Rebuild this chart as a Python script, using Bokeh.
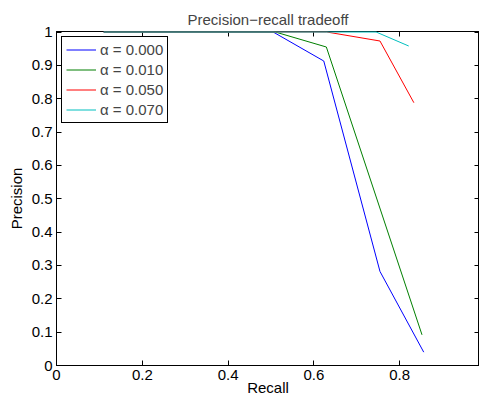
from bokeh.plotting import figure
from bokeh.models import LinearAxis, FixedTicker, Legend, LegendItem, Range1d
from bokeh.embed import file_html
from bokeh.resources import INLINE

# ---- data ----
recall_a000 = [0.11, 0.505, 0.623, 0.754, 0.856]
precision_a000 = [1.0, 1.0, 0.913, 0.282, 0.040]

recall_a010 = [0.11, 0.51, 0.629, 0.852]
precision_a010 = [1.0, 1.0, 0.955, 0.092]

recall_a050 = [0.11, 0.63, 0.754, 0.833]
precision_a050 = [1.0, 1.0, 0.973, 0.788]

recall_a070 = [0.11, 0.745, 0.821]
precision_a070 = [1.0, 1.0, 0.958]

series_labels = ["\u03b1 = 0.000", "\u03b1 = 0.010", "\u03b1 = 0.050", "\u03b1 = 0.070"]
series_colors = ["#0000ff", "#007f00", "#ff0000", "#00bfbf"]

x_ticks = [0, 0.2, 0.4, 0.6, 0.8]
x_tick_labels = ["0", "0.2", "0.4", "0.6", "0.8"]
y_ticks = [0, 0.1, 0.2, 0.3, 0.4, 0.5, 0.6, 0.7, 0.8, 0.9, 1]
y_tick_labels = ["0", "0.1", "0.2", "0.3", "0.4", "0.5", "0.6", "0.7", "0.8", "0.9", "1"]

FONT = "Liberation Sans"
FS = "15px"

p = figure(width=479, height=398,
           x_range=Range1d(0, 0.986), y_range=Range1d(0, 1.0015),
           output_backend="svg", toolbar_location=None,
           min_border_left=56, min_border_right=0,
           min_border_top=31, min_border_bottom=33,
           title="Precision\u2212recall tradeoff")
p.title.align = "center"
p.title.text_font = FONT
p.title.text_font_size = FS
p.title.text_font_style = "normal"
p.title.standoff = 7
p.grid.visible = False
p.outline_line_color = "black"
p.outline_line_alpha = 1
p.outline_line_width = 1

def style_axis(ax):
    ax.major_tick_in = 5
    ax.major_tick_out = 0
    ax.minor_tick_in = 0
    ax.minor_tick_out = 0
    ax.axis_line_color = "black"
    ax.major_tick_line_color = "black"
    ax.major_label_text_font = FONT
    ax.major_label_text_font_size = FS
    ax.major_label_text_color = "black"
    ax.axis_label_text_font = FONT
    ax.axis_label_text_font_size = FS
    ax.axis_label_text_font_style = "normal"
    ax.axis_label_text_color = "black"

xa = p.xaxis[0]
style_axis(xa)
xa.ticker = FixedTicker(ticks=x_ticks)
xa.major_label_overrides = dict(zip(x_ticks, x_tick_labels))
xa.axis_label = "Recall"
xa.major_label_standoff = 4
xa.axis_label_standoff = -4

ya = p.yaxis[0]
style_axis(ya)
ya.ticker = FixedTicker(ticks=y_ticks)
ya.major_label_overrides = dict(zip(y_ticks, y_tick_labels))
ya.axis_label = "Precision"
ya.major_label_standoff = 4
ya.axis_label_standoff = 4

for side, ticks in (("right", y_ticks), ("above", x_ticks)):
    ax = LinearAxis(ticker=FixedTicker(ticks=ticks))
    style_axis(ax)
    ax.major_label_text_font_size = "0px"
    ax.major_label_overrides = {t: "" for t in ticks}
    ax.major_label_standoff = 0
    p.add_layout(ax, side)

data = [(recall_a000, precision_a000), (recall_a010, precision_a010),
        (recall_a050, precision_a050), (recall_a070, precision_a070)]
items = []
for (xs, ys), lab, col in zip(data, series_labels, series_colors):
    r = p.line(xs, ys, line_color=col, line_width=1)
    r.level = "overlay"
    items.append(LegendItem(label=lab, renderers=[r]))

legend = Legend(items=items, location="top_left",
                border_line_color="black", border_line_width=1, border_line_alpha=1,
                background_fill_color="white", background_fill_alpha=1,
                label_text_font=FONT, label_text_font_size=FS,
                glyph_width=30, glyph_height=17, label_height=17,
                spacing=3, padding=4, margin=5, label_standoff=4)
p.add_layout(legend)

open("out.html", "w").write(file_html(p, INLINE))
